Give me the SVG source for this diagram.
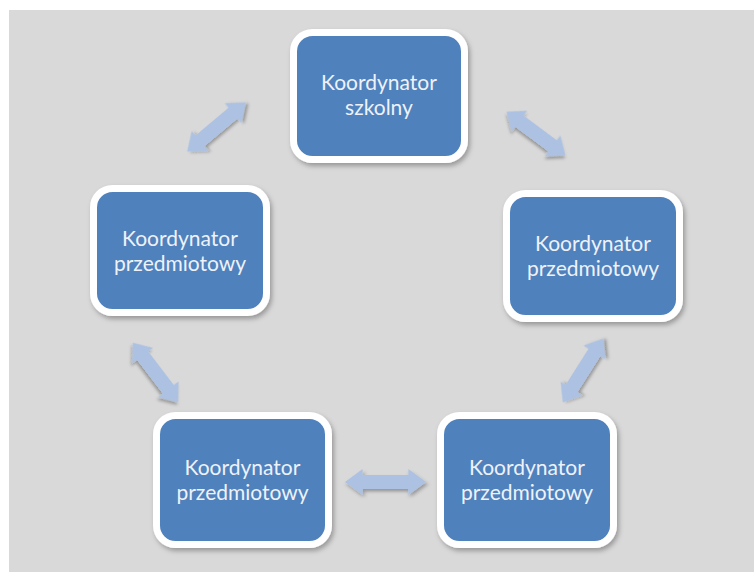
<svg xmlns="http://www.w3.org/2000/svg" width="754" height="572" viewBox="0 0 754 572">
  <defs>
    <style>
      .box { fill: #4f81bd; stroke: #ffffff; stroke-width: 7; filter: url(#sh); }
      .lbl { font-family: Lato, "Open Sans", "Liberation Sans", sans-serif; font-size: 21px; fill: #eef2f8; text-anchor: middle; }
      .arr { fill: #adc2e2; filter: url(#sh2); }
    </style>
    <filter id="sh" x="-10%" y="-10%" width="125%" height="125%">
      <feDropShadow dx="2" dy="3" stdDeviation="2.5" flood-color="#000" flood-opacity="0.3"/>
    </filter>
    <filter id="sh2" x="-20%" y="-30%" width="140%" height="170%">
      <feDropShadow dx="1.5" dy="2.5" stdDeviation="1.8" flood-color="#000" flood-opacity="0.3"/>
    </filter>
    <path id="dbl" d="M-39,0 L-22,-13 L-22,-7 L22,-7 L22,-13 L39,0 L22,13 L22,7 L-22,7 L-22,13 Z"/>
  </defs>
  <rect x="0" y="0" width="754" height="572" fill="#ffffff"/>
  <rect x="9" y="10" width="745" height="562" fill="#d9d9d9"/>

  <g id="connectors">
    <use href="#dbl" class="arr" transform="translate(216.5,127) rotate(-40) scale(0.98,1)"/>
    <use href="#dbl" class="arr" transform="translate(536,133.5) rotate(36.6) scale(0.94,1)"/>
    <use href="#dbl" class="arr" transform="translate(155.5,372.5) rotate(52.7) scale(0.96,1)"/>
    <use href="#dbl" class="arr" transform="translate(583,370.5) rotate(-57.6) scale(0.97,1)"/>
    <use href="#dbl" class="arr" transform="translate(385.5,482) scale(1.04,1)"/>
  </g>

  <g id="node-szkolny">
    <rect class="box" x="293.5" y="32.5" width="171" height="127" rx="19"/>
    <text class="lbl" x="379" y="90">Koordynator</text>
    <text class="lbl" x="379" y="115">szkolny</text>
  </g>
  <g id="node-left">
    <rect class="box" x="93.5" y="188.5" width="173" height="124" rx="19"/>
    <text class="lbl" x="180" y="246">Koordynator</text>
    <text class="lbl" x="180" y="271">przedmiotowy</text>
  </g>
  <g id="node-right">
    <rect class="box" x="506.5" y="193.5" width="173" height="125" rx="19"/>
    <text class="lbl" x="593" y="251">Koordynator</text>
    <text class="lbl" x="593" y="276">przedmiotowy</text>
  </g>
  <g id="node-bottom-left">
    <rect class="box" x="156.5" y="415.5" width="172" height="129" rx="19"/>
    <text class="lbl" x="242.5" y="475">Koordynator</text>
    <text class="lbl" x="242.5" y="500">przedmiotowy</text>
  </g>
  <g id="node-bottom-right">
    <rect class="box" x="440.5" y="415.5" width="173" height="129" rx="19"/>
    <text class="lbl" x="527" y="475">Koordynator</text>
    <text class="lbl" x="527" y="500">przedmiotowy</text>
  </g>
</svg>
